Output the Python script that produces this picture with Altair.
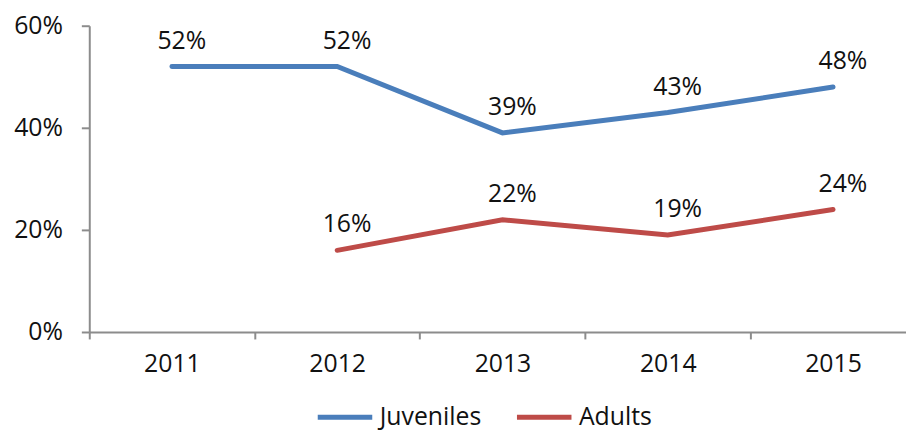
import altair as alt
import pandas as pd

years = [2011, 2012, 2013, 2014, 2015]
juveniles = [0.52, 0.52, 0.39, 0.43, 0.48]
adults = [None, 0.16, 0.22, 0.19, 0.24]
series = ["Juveniles", "Adults"]
colors = ["#4A7EBB", "#BE4B48"]
y_ticks = [0, 0.2, 0.4, 0.6]

rows = []
for name, vals in zip(series, [juveniles, adults]):
    for yr, v in zip(years, vals):
        if v is not None:
            rows.append({"year": yr, "series": name, "value": v})
df = pd.DataFrame(rows)

FONT = "Open Sans"
FS = 25
AXIS_COLOR = "#8c8c8c"
W = 824
H = 309
step = 166.75
x_min = years[0] - 0.5
x_max = x_min + W / step
tick_vals = [y - 0.5 for y in years if y - 0.5 <= x_max]

x_enc = alt.X(
    "year:Q",
    scale=alt.Scale(domain=[x_min, x_max], nice=False, zero=False),
    axis=alt.Axis(
        values=tick_vals,
        labelExpr="format(datum.value + 0.5, 'd')",
        labelOffset=step / 2,
        labelFlush=False,
        labelFont=FONT,
        labelFontSize=FS,
        labelColor="#111111",
        labelPadding=13,
        tickSize=7,
        tickWidth=2,
        tickColor=AXIS_COLOR,
        domainColor=AXIS_COLOR,
        domainWidth=2,
        grid=False,
        title=None,
    ),
)
y_enc = alt.Y(
    "value:Q",
    scale=alt.Scale(domain=[0, 0.6], nice=False),
    axis=alt.Axis(
        values=y_ticks,
        format=".0%",
        labelFont=FONT,
        labelFontSize=FS,
        labelColor="#111111",
        labelPadding=19,
        tickSize=8,
        tickWidth=2,
        tickColor=AXIS_COLOR,
        domainColor=AXIS_COLOR,
        domainWidth=2,
        grid=False,
        title=None,
    ),
)
color_enc = alt.Color(
    "series:N",
    scale=alt.Scale(domain=series, range=colors),
    sort=series,
    legend=alt.Legend(
        title=None,
        orient="none",
        direction="horizontal",
        legendX=228,
        legendY=365,
        symbolType="stroke",
        symbolSize=3025,
        symbolStrokeWidth=5,
        labelFont=FONT,
        labelFontSize=FS,
        labelColor="#111111",
        labelOffset=5,
        columnPadding=25,
        padding=0,
    ),
)

lines = alt.Chart(df).mark_line(strokeWidth=5, strokeCap="round").encode(
    x=x_enc, y=y_enc, color=color_enc, detail="series:N"
)
labels = alt.Chart(df).mark_text(
    dx=10, dy=-18, baseline="alphabetic", align="center",
    font=FONT, fontSize=FS, color="#111111"
).encode(
    x=alt.X("year:Q"),
    y=alt.Y("value:Q"),
    text=alt.Text("value:Q", format=".0%"),
)

chart = (
    alt.layer(lines, labels)
    .properties(
        width=W,
        height=H,
        autosize=alt.AutoSizeParams(type="none"),
        padding={"left": 82, "top": 16, "right": 0, "bottom": 97},
    )
    .configure_view(stroke=None)
)

chart.save("out.html", embed_options={"renderer": "svg", "actions": False})
